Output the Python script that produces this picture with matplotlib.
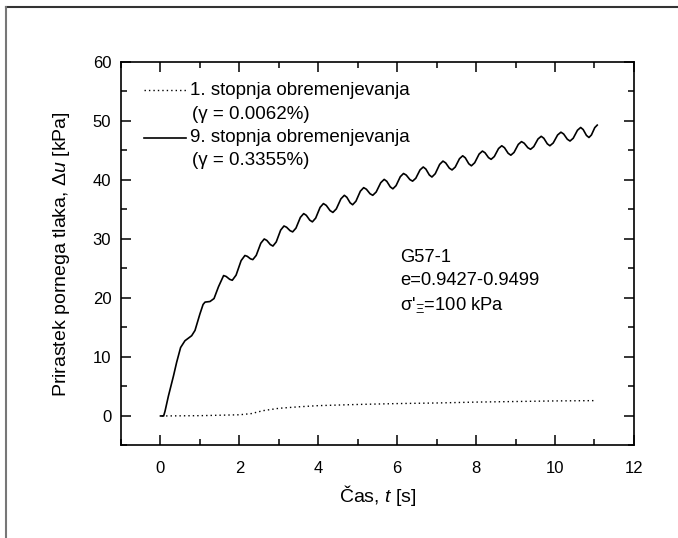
import matplotlib
matplotlib.use("Agg")
import matplotlib.pyplot as plt
from matplotlib.lines import Line2D
from matplotlib.ticker import MultipleLocator

plt.rcParams['font.family'] = ['Liberation Sans', 'DejaVu Sans']
plt.rcParams['mathtext.fontset'] = 'custom'
plt.rcParams['mathtext.rm'] = 'Liberation Sans'
plt.rcParams['mathtext.it'] = 'Liberation Sans:italic'

# 9. stopnja obremenjevanja
t9 = [0.0, 0.08, 0.115, 0.2, 0.33, 0.41, 0.51, 0.62, 0.79, 0.875, 1.0, 1.08, 1.13,
      1.255, 1.357, 1.47, 1.60,
      1.666, 1.754, 1.82, 1.916, 2.044, 2.14, 2.20, 2.28, 2.34, 2.427, 2.543, 2.63,
      2.696, 2.784, 2.85, 2.934, 3.046, 3.13, 3.196, 3.284, 3.35, 3.434, 3.546, 3.63,
      3.696, 3.784, 3.85, 3.934, 4.046, 4.13, 4.202, 4.298, 4.37, 4.457, 4.573, 4.66,
      4.723, 4.807, 4.87, 4.954, 5.066, 5.15, 5.219, 5.311, 5.38, 5.467, 5.583, 5.67,
      5.736, 5.824, 5.89, 5.971, 6.079, 6.16, 6.229, 6.321, 6.39, 6.471, 6.579, 6.66,
      6.726, 6.814, 6.88, 6.964, 7.076, 7.16, 7.229, 7.321, 7.39, 7.471, 7.579, 7.66,
      7.726, 7.814, 7.88, 7.964, 8.076, 8.16, 8.226, 8.314, 8.38, 8.461, 8.569, 8.65,
      8.719, 8.811, 8.88, 8.961, 9.069, 9.15, 9.219, 9.311, 9.38, 9.461, 9.569, 9.65,
      9.716, 9.804, 9.87, 9.954, 10.066, 10.15, 10.219, 10.311, 10.38, 10.461, 10.569,
      10.65, 10.713, 10.797, 10.86, 10.923, 11.007, 11.07]
u9 = [0.0, 0.0, 0.8, 3.35, 6.8, 9.1, 11.6, 12.75, 13.6, 14.5, 17.3, 18.9, 19.3,
      19.4, 19.9, 21.9, 23.8,
      23.64, 23.16, 23.0, 23.87, 26.33, 27.2, 27.06, 26.64, 26.5, 27.22, 29.28, 30.0,
      29.75, 29.05, 28.8, 29.50, 31.50, 32.2, 31.99, 31.41, 31.2, 31.84, 33.66, 34.3,
      34.01, 33.19, 32.9, 33.54, 35.36, 36.0, 35.69, 34.81, 34.5, 35.10, 36.80, 37.4,
      37.07, 36.13, 35.8, 36.40, 38.10, 38.7, 38.43, 37.67, 37.4, 37.96, 39.54, 40.1,
      39.77, 38.83, 38.5, 39.04, 40.56, 41.1, 40.83, 40.07, 39.8, 40.29, 41.71, 42.2,
      41.85, 40.85, 40.5, 41.06, 42.64, 43.2, 42.89, 42.01, 41.7, 42.19, 43.61, 44.1,
      43.75, 42.75, 42.4, 42.92, 44.39, 44.9, 44.61, 43.79, 43.5, 43.97, 45.33, 45.8,
      45.47, 44.53, 44.2, 44.67, 46.03, 46.5, 46.23, 45.47, 45.2, 45.65, 46.95, 47.4,
      47.07, 46.13, 45.8, 46.27, 47.63, 48.1, 47.79, 46.91, 46.6, 47.07, 48.43,
      48.9, 48.55, 47.55, 47.2, 47.63, 48.87, 49.3]

# 1. stopnja obremenjevanja
t1 = [0.03, 1.0, 2.0, 2.3, 2.6, 3.0, 3.5, 4.0, 5.0, 6.0, 7.0, 8.0, 9.0, 10.0, 11.0]
u1 = [0.0, 0.05, 0.2, 0.4, 0.9, 1.3, 1.55, 1.75, 1.95, 2.1, 2.2, 2.35, 2.45, 2.55, 2.6]

labels = ['1. stopnja obremenjevanja', '(\u03b3 = 0.0062%)',
          '9. stopnja obremenjevanja', '(\u03b3 = 0.3355%)']
note = ['G57-1', 'e=0.9427-0.9499', "\u03c3'$_{\u039e}$=100 kPa"]

fig = plt.figure(figsize=(6.78, 5.38), dpi=100)
ax = fig.add_axes([0.1785, 0.172, 0.7565, 0.7128])

ax.plot(t1, u1, color='black', lw=1.0, linestyle=(0, (1, 2.2)))
ax.plot(t9, u9, color='black', lw=1.2)

ax.set_xlim(-1, 12)
ax.set_ylim(-5, 60)
ax.xaxis.set_major_locator(MultipleLocator(2))
ax.xaxis.set_minor_locator(MultipleLocator(1))
ax.yaxis.set_major_locator(MultipleLocator(10))
ax.yaxis.set_minor_locator(MultipleLocator(5))
ax.tick_params(which='both', direction='in', top=True, right=True, width=1.1, labelsize=12)
ax.tick_params(which='major', length=7)
ax.tick_params(which='minor', length=4)
ax.tick_params(axis='x', pad=11)
ax.tick_params(axis='y', pad=7)
for s in ax.spines.values():
    s.set_linewidth(1.2)

ax.set_xlabel('\u010cas, $\\mathit{t}$ [s]', fontsize=14, labelpad=5)
ax.set_ylabel('Prirastek pornega tlaka, $\\mathit{\\Delta u}$ [kPa]', fontsize=14, labelpad=15)

# legend drawn by hand so the handle sits on the first label line
ax.add_line(Line2D([0.045, 0.127], [0.926, 0.926], transform=ax.transAxes,
                   color='black', lw=1.0, linestyle=(0, (1, 2.2))))
ax.add_line(Line2D([0.045, 0.127], [0.803, 0.803], transform=ax.transAxes,
                   color='black', lw=1.2))
ax.text(0.1345, 0.926, labels[0], transform=ax.transAxes, fontsize=13.5, va='center')
ax.text(0.139, 0.863, labels[1], transform=ax.transAxes, fontsize=13.5, va='center')
ax.text(0.1345, 0.803, labels[2], transform=ax.transAxes, fontsize=13.5, va='center')
ax.text(0.139, 0.742, labels[3], transform=ax.transAxes, fontsize=13.5, va='center')

for yy, s in zip([0.49, 0.429, 0.366], note):
    ax.text(0.544, yy, s, transform=ax.transAxes, fontsize=13.2, va='center')

# page frame (top and left edges only)
fig.add_artist(Line2D([0.00885, 1.0], [0.987, 0.987], transform=fig.transFigure,
                      color='#333333', lw=1.5))
fig.add_artist(Line2D([0.00885, 0.00885], [0.0, 0.987], transform=fig.transFigure,
                      color='#777777', lw=1.5))

fig.savefig('out.png', dpi=100)
